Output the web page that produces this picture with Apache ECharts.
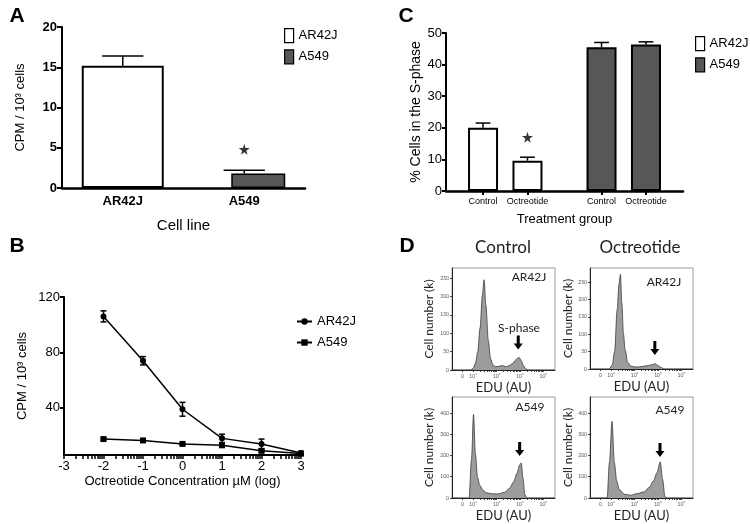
<!DOCTYPE html>
<html><head><meta charset="utf-8">
<script src="https://cdn.jsdelivr.net/npm/echarts@6/dist/echarts.min.js"></script>
<style>html,body{margin:0;padding:0;background:#fff}#c{width:750px;height:524px}</style>
</head><body><div id="c"></div>
<script>
// ---------- Panel A ----------
const aCategories = ['AR42J', 'A549'];
const aValues = [15.2, 1.8];
const aErrors = [1.2, 0.4];
const aStarValue = 4.8;
// ---------- Panel B ----------
const bDoses = [-2, -1, 0, 1, 2, 3];
const bAR42J = [106, 74, 39, 18, 14, 7.5];
const bAR42JErr = [4, 3, 5, 3, 3.5, 1];
const bA549 = [17.5, 16.5, 14, 13, 9, 7];
const bA549Err = [0.8, 0.8, 0.8, 0.8, 0.8, 0.8];
const bXLabels = [-3, -2, -1, 0, 1, 2, 3];
const bYLabels = [40, 80, 120];
// ---------- Panel C ----------
const cTreatments = ['Control', 'Octreotide'];
const cAR42J = [20.0, 9.6];
const cAR42JErr = [1.5, 1.1];
const cA549 = [45.5, 46.4];
const cA549Err = [1.5, 0.8];
const cStarValue = 17;
// ---------- Panel D (flow histograms, x = log10 EDU, y = cell number k) ----------
const dCtrlAR42J_x = [1.1, 1.9, 2.0, 2.1, 2.2, 2.3, 2.4, 2.47, 2.55, 2.65, 2.75, 2.85, 2.95, 3.1, 3.25, 3.4, 3.55, 3.7, 3.8, 3.9, 3.97, 4.05, 4.15, 4.25, 4.35, 5.5];
const dCtrlAR42J_y = [0, 0, 4, 18, 50, 115, 205, 245, 175, 80, 30, 14, 9, 10, 12, 9, 12, 18, 26, 32, 34, 26, 12, 3, 0, 0];
const dOctAR42J_x = [1.1, 1.93, 2.05, 2.15, 2.26, 2.34, 2.4, 2.46, 2.53, 2.6, 2.71, 2.85, 3.0, 3.2, 3.4, 3.6, 3.75, 3.87, 4.0, 4.12, 4.27, 5.5];
const dOctAR42J_y = [0, 0, 12, 50, 170, 245, 272, 190, 100, 55, 19, 8, 6, 6, 8, 10, 12, 15, 10, 5, 0, 0];
const dCtrlA549_x = [1.1, 1.83, 1.93, 2.02, 2.1, 2.19, 2.29, 2.43, 2.57, 2.78, 3.06, 3.35, 3.56, 3.73, 3.87, 3.99, 4.06, 4.13, 4.21, 4.3, 5.5];
const dCtrlA549_y = [0, 0, 177, 393, 208, 97, 59, 36, 25, 20, 19, 27, 46, 75, 115, 155, 165, 95, 17, 0, 0];
const dOctA549_x = [1.1, 1.83, 1.93, 2.04, 2.14, 2.24, 2.35, 2.57, 2.85, 3.13, 3.42, 3.63, 3.81, 3.96, 4.1, 4.2, 4.3, 4.38, 5.5];
const dOctA549_y = [0, 0, 167, 360, 167, 80, 40, 18, 13, 21, 29, 50, 80, 119, 170, 88, 8, 0, 0];
const dYMax = [277, 290, 475, 475];
const dYTicksAR42J = [0, 50, 100, 150, 200, 250];
const dYTicksA549 = [0, 100, 200, 300, 400];
const dXLabelValues = [1.55, 2, 3, 4, 5];
const dXLabelTexts = ['0', '10²', '10³', '10⁴', '10⁵'];
const dArrowX = [3.93, 3.87, 3.99, 4.09];
const dArrowY = [75, 60, 231, 226];
const dCellLines = ['AR42J', 'AR42J', 'A549', 'A549'];
const dColumns = ['Control', 'Octreotide'];

// ---------- helpers ----------
const SANS = 'Liberation Sans, Arial, sans-serif';
const CAL = 'Lato, Open Sans, sans-serif';
const logMinor = (from, to) => {
  const out = [];
  for (let d = from; d < to; d++) for (let k = 2; k <= 9; k++) out.push(d + Math.log10(k));
  return out;
};
function errRender(capMode, both) {
  return function (params, api) {
    const x = api.value(0), y = api.value(1), e = api.value(2);
    const p0 = api.coord([x, both ? y - e : y]);
    const p1 = api.coord([x, y + e]);
    const cap = capMode === 'px' ? 3 : api.size([1, 0])[0] * capMode;
    const st = { stroke: '#000', lineWidth: 1.5 };
    const ch = [
      { type: 'line', shape: { x1: p0[0], y1: p0[1], x2: p1[0], y2: p1[1] }, style: st },
      { type: 'line', shape: { x1: p1[0] - cap, y1: p1[1], x2: p1[0] + cap, y2: p1[1] }, style: st }
    ];
    if (both) ch.push({ type: 'line', shape: { x1: p0[0] - cap, y1: p0[1], x2: p0[0] + cap, y2: p0[1] }, style: st });
    return { type: 'group', children: ch };
  };
}
const starPath = 'path://M50,0 L61,35 L98,35 L68,57 L79,91 L50,70 L21,91 L32,57 L2,35 L39,35 Z';
const arrowPath = 'path://M3,0 L6,0 L6,8 L9,8 L4.5,14 L0,8 L3,8 Z';

// Panel C slot layout (16 slots; groups at 2,5 and 10,13)
const cSlotCount = 16;
const cGroupStart = [2, 10];
const cStep = 3;
const cSlots = Array.from({ length: cSlotCount }, (_, i) => 's' + i);
const cSlotLabel = {};
cGroupStart.forEach(s => cTreatments.forEach((t, j) => { cSlotLabel[s + j * cStep] = t; }));
const slotSeries = (g, vals) => {
  const arr = cSlots.map(() => '-');
  vals.forEach((v, j) => { arr[cGroupStart[g] + j * cStep] = v; });
  return arr;
};

// Panel D grids
const dGrids = [
  { left: 452, top: 268, width: 103, height: 102 },
  { left: 590, top: 268, width: 103, height: 101 },
  { left: 452, top: 397, width: 103, height: 101 },
  { left: 590, top: 397, width: 103, height: 101 }
];
const dData = [
  [dCtrlAR42J_x, dCtrlAR42J_y],
  [dOctAR42J_x, dOctAR42J_y],
  [dCtrlA549_x, dCtrlA549_y],
  [dOctA549_x, dOctA549_y]
];

const grids = [
  { left: 62, top: 27, width: 243, height: 161 },
  { left: 64, top: 297, width: 237, height: 158 },
  { left: 446, top: 33, width: 237, height: 158 }
].concat(dGrids.map(g => Object.assign({ show: true, borderColor: '#9a9a9a', borderWidth: 1 }, g)));

const blackLine = w => ({ show: true, onZero: false, lineStyle: { color: '#000', width: w } });

const xAxes = [
  { gridIndex: 0, type: 'category', data: aCategories, axisLine: blackLine(2.5), axisTick: { show: false },
    axisLabel: { color: '#000', fontWeight: 'bold', fontSize: 13, fontFamily: SANS, margin: 7 },
    name: 'Cell line', nameLocation: 'middle', nameGap: 30, nameTextStyle: { color: '#000', fontSize: 15, fontFamily: SANS } },
  { gridIndex: 1, type: 'value', min: -3, max: 3, axisLine: blackLine(2), splitLine: { show: false },
    axisTick: { show: true, length: 4, lineStyle: { color: '#000', width: 1.5 }, customValues: bXLabels.concat(logMinor(-3, 3)) },
    axisLabel: { color: '#000', fontSize: 13, fontFamily: SANS, margin: 5, customValues: bXLabels },
    name: 'Octreotide Concentration µM (log)', nameLocation: 'middle', nameGap: 20, nameTextStyle: { color: '#000', fontSize: 13, fontFamily: SANS } },
  { gridIndex: 2, type: 'category', data: cSlots, axisLine: blackLine(2.5),
    axisTick: { show: true, alignWithLabel: true, length: 4, lineStyle: { color: '#000', width: 2 }, interval: i => cSlotLabel[i] != null },
    axisLabel: { color: '#000', fontSize: 9, fontFamily: SANS, margin: 6, interval: i => cSlotLabel[i] != null, formatter: (v, i) => cSlotLabel[i] || '' },
    name: 'Treatment group', nameLocation: 'middle', nameGap: 22, nameTextStyle: { color: '#000', fontSize: 13, fontFamily: SANS } }
].concat(dGrids.map((g, k) => ({
  gridIndex: 3 + k, type: 'value', min: 1.1, max: 5.5, splitLine: { show: false },
  axisLine: { show: true, onZero: false, lineStyle: { color: '#222', width: 1 } },
  axisTick: { show: true, length: 2, lineStyle: { color: '#222', width: 0.8 }, customValues: dXLabelValues.concat(logMinor(2, 5)) },
  axisLabel: { color: '#555', fontSize: 5, fontFamily: CAL, margin: 4, customValues: dXLabelValues,
    formatter: v => { const i = dXLabelValues.findIndex(t => Math.abs(t - v) < 1e-6); return i >= 0 ? dXLabelTexts[i] : ''; } },
  name: 'EDU (AU)', nameLocation: 'middle', nameGap: 11, nameTextStyle: { color: '#222', fontSize: 13, fontFamily: CAL }
})));

const yAxes = [
  { gridIndex: 0, type: 'value', min: 0, max: 20, interval: 5, splitLine: { show: false }, axisLine: blackLine(2),
    axisTick: { show: true, length: 5, lineStyle: { color: '#000', width: 2 } },
    axisLabel: { color: '#000', fontWeight: 'bold', fontSize: 13, fontFamily: SANS, margin: 5 },
    name: 'CPM / 10³ cells', nameLocation: 'middle', nameGap: 35, nameTextStyle: { color: '#000', fontSize: 13, fontFamily: SANS } },
  { gridIndex: 1, type: 'value', min: 6, max: 120, splitLine: { show: false }, axisLine: blackLine(2),
    axisTick: { show: true, length: 4, lineStyle: { color: '#000', width: 2 }, customValues: bYLabels },
    axisLabel: { color: '#000', fontSize: 13, fontFamily: SANS, margin: 4, customValues: bYLabels },
    name: 'CPM / 10³ cells', nameLocation: 'middle', nameGap: 35, nameTextStyle: { color: '#000', fontSize: 13, fontFamily: SANS } },
  { gridIndex: 2, type: 'value', min: 0, max: 50, interval: 10, splitLine: { show: false }, axisLine: blackLine(2),
    axisTick: { show: true, length: 4, lineStyle: { color: '#000', width: 2 } },
    axisLabel: { color: '#000', fontSize: 13, fontFamily: SANS, margin: 4 },
    name: '% Cells in the S-phase', nameLocation: 'middle', nameGap: 22, nameTextStyle: { color: '#000', fontSize: 14, fontFamily: SANS } }
].concat(dGrids.map((g, k) => ({
  gridIndex: 3 + k, type: 'value', min: 0, max: dYMax[k], splitLine: { show: false },
  axisLine: { show: true, onZero: false, lineStyle: { color: '#222', width: 1 } },
  axisTick: { show: true, length: 2, lineStyle: { color: '#222', width: 0.8 }, customValues: k < 2 ? dYTicksAR42J : dYTicksA549 },
  axisLabel: { color: '#555', fontSize: 5, fontFamily: CAL, margin: 3, customValues: k < 2 ? dYTicksAR42J : dYTicksA549 },
  name: 'Cell number (k)', nameLocation: 'middle', nameGap: k % 2 === 0 ? 17 : 15, nameTextStyle: { color: '#222', fontSize: 12, fontFamily: CAL }
})));

const series = [
  { name: 'A:AR42J', type: 'bar', xAxisIndex: 0, yAxisIndex: 0, barWidth: 82, barGap: '-65.85%',
    data: aCategories.map((c, i) => i === 0 ? aValues[i] : '-'),
    itemStyle: { color: '#ffffff', borderColor: '#000', borderWidth: 2 } },
  { name: 'A:A549', type: 'bar', xAxisIndex: 0, yAxisIndex: 0, barWidth: 54, barGap: '-65.85%',
    data: aCategories.map((c, i) => i === 1 ? aValues[i] : '-'),
    itemStyle: { color: '#575757', borderColor: '#000', borderWidth: 1.5 } },
  { type: 'custom', xAxisIndex: 0, yAxisIndex: 0, z: 3, renderItem: errRender(0.17, false),
    data: aValues.map((v, i) => [i, v, aErrors[i]]), encode: { x: 0, y: 1 }, silent: true },
  { type: 'scatter', xAxisIndex: 0, yAxisIndex: 0, symbol: starPath, symbolSize: 11, itemStyle: { color: '#000' },
    data: [[1, aStarValue]], silent: true },

  { name: 'B:AR42J', type: 'line', xAxisIndex: 1, yAxisIndex: 1, symbol: 'circle', symbolSize: 6,
    data: bDoses.map((d, i) => [d, bAR42J[i]]), lineStyle: { color: '#000', width: 1.5 }, itemStyle: { color: '#000' } },
  { name: 'B:A549', type: 'line', xAxisIndex: 1, yAxisIndex: 1, symbol: 'rect', symbolSize: 6,
    data: bDoses.map((d, i) => [d, bA549[i]]), lineStyle: { color: '#000', width: 1.5 }, itemStyle: { color: '#000' } },
  { type: 'custom', xAxisIndex: 1, yAxisIndex: 1, z: 3, renderItem: errRender('px', true),
    data: bDoses.map((d, i) => [d, bAR42J[i], bAR42JErr[i]]), encode: { x: 0, y: 1 }, silent: true },
  { type: 'custom', xAxisIndex: 1, yAxisIndex: 1, z: 3, renderItem: errRender('px', true),
    data: bDoses.map((d, i) => [d, bA549[i], bA549Err[i]]), encode: { x: 0, y: 1 }, silent: true },

  { name: 'C:AR42J', type: 'bar', xAxisIndex: 2, yAxisIndex: 2, barWidth: 30, barGap: '-100%',
    data: slotSeries(0, cAR42J), itemStyle: { color: '#ffffff', borderColor: '#000', borderWidth: 2 } },
  { name: 'C:A549', type: 'bar', xAxisIndex: 2, yAxisIndex: 2, barWidth: 30, barGap: '-100%',
    data: slotSeries(1, cA549), itemStyle: { color: '#575757', borderColor: '#000', borderWidth: 2 } },
  { type: 'custom', xAxisIndex: 2, yAxisIndex: 2, z: 3, renderItem: errRender(0.5, false), encode: { x: 0, y: 1 }, silent: true,
    data: cAR42J.map((v, j) => [cGroupStart[0] + j * cStep, v, cAR42JErr[j]])
      .concat(cA549.map((v, j) => [cGroupStart[1] + j * cStep, v, cA549Err[j]])) },
  { type: 'scatter', xAxisIndex: 2, yAxisIndex: 2, symbol: starPath, symbolSize: 11, itemStyle: { color: '#000' },
    data: [[cGroupStart[0] + cStep, cStarValue]], silent: true }
].concat(dData.map((d, k) => ({
  type: 'line', xAxisIndex: 3 + k, yAxisIndex: 3 + k, symbol: 'none', smooth: 0.3, smoothMonotone: 'x',
  data: d[0].map((x, i) => [x, d[1][i]]),
  lineStyle: { color: '#3a3a3a', width: 0.8 }, areaStyle: { color: '#9c9c9c', opacity: 1 }, silent: true,
  markPoint: { silent: true, label: { show: false }, itemStyle: { color: '#000' },
    data: [{ coord: [dArrowX[k], dArrowY[k]], symbol: arrowPath, symbolSize: [9, 14] }] }
})));

const legendText = { color: '#000', fontSize: 13, fontFamily: SANS };
const boxLegend = (prefix, left, top) => ({
  orient: 'vertical', left, top, padding: 0, itemWidth: 9, itemHeight: 14, itemGap: 6, selectedMode: false,
  textStyle: legendText, formatter: n => n.split(':')[1],
  data: [
    { name: prefix + ':AR42J', icon: 'rect', itemStyle: { color: '#fff', borderColor: '#000', borderWidth: 1.2 } },
    { name: prefix + ':A549', icon: 'rect', itemStyle: { color: '#575757', borderColor: '#000', borderWidth: 1.2 } }
  ]
});

const txt = (text, x, y, size, opts) => ({
  type: 'text', x, y, style: Object.assign({ text, fontSize: size, fontFamily: SANS, fill: '#000', align: 'center', verticalAlign: 'middle' }, opts || {})
});
const graphics = [
  txt('A', 17, 16, 21, { fontWeight: 'bold' }),
  txt('B', 17, 246, 21, { fontWeight: 'bold' }),
  txt('C', 406, 16, 21, { fontWeight: 'bold' }),
  txt('D', 407, 246, 21, { fontWeight: 'bold' }),
  txt(dColumns[0], 503, 248, 17, { fontFamily: CAL, fill: '#222' }),
  txt(dColumns[1], 640, 248, 17, { fontFamily: CAL, fill: '#222' }),
  txt(dCellLines[0], 529, 277, 12, { fontFamily: CAL, fill: '#222' }),
  txt(dCellLines[1], 664, 282, 12, { fontFamily: CAL, fill: '#222' }),
  txt(dCellLines[2], 530, 407, 12, { fontFamily: CAL, fill: '#222' }),
  txt(dCellLines[3], 670, 410, 12, { fontFamily: CAL, fill: '#222' }),
  txt('S-phase', 519, 328, 12, { fontFamily: CAL, fill: '#222' })
];

const chart = echarts.init(document.getElementById('c'), null, { renderer: 'canvas' });
chart.setOption({
  animation: false,
  backgroundColor: '#fff',
  grid: grids,
  xAxis: xAxes,
  yAxis: yAxes,
  legend: [
    boxLegend('A', 284, 28),
    boxLegend('C', 695, 36),
    { orient: 'vertical', left: 296, top: 315, padding: 0, itemWidth: 15, itemHeight: 8, itemGap: 8, selectedMode: false,
      textStyle: legendText, formatter: n => n.split(':')[1], data: ['B:AR42J', 'B:A549'] }
  ],
  graphic: graphics,
  series
});
</script>
</body></html>
